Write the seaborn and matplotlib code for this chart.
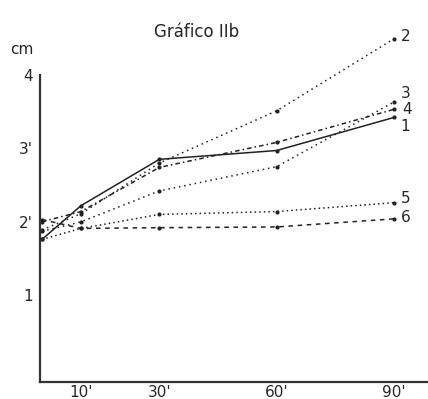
import numpy as np
import pandas as pd
import seaborn as sns
import matplotlib
matplotlib.use("Agg")
import matplotlib.pyplot as plt

# minutes
times = [0, 10, 30, 60, 90]

# length in cm
line1 = [1.76, 2.22, 2.85, 2.97, 3.42]
line2 = [1.89, 2.11, 2.80, 3.51, 4.49]
line3 = [1.87, 2.00, 2.42, 2.75, 3.63]
line4 = [2.00, 2.14, 2.74, 3.08, 3.53]
line5 = [1.76, 1.91, 2.10, 2.14, 2.26]
line6 = [2.03, 1.91, 1.92, 1.93, 2.04]

names = ["1", "2", "3", "4", "5", "6"]
x_labels = ["10'", "30'", "60'", "90'"]
y_labels = ["1", "2'", "3'", "4"]

sns.set_style("white")
plt.rcParams['font.family'] = ['DejaVu Sans']

fig = plt.figure(figsize=(4.28, 3.99), dpi=100)
ax = fig.add_axes([40 / 428, 1 - 382 / 399, 1 - 40 / 428, (382 - 30) / 399])

styles = ['-', (0, (1, 2.5)), (0, (1, 2.5)), (0, (3, 2, 1, 2)), (0, (1, 2)), (0, (3, 3))]
series = [line1, line2, line3, line4, line5, line6]
# where the number sits relative to the last point (pixels)
label_off = [(6, -9), (7, 2), (7, 9), (8, 0), (7, 4), (7, 1)]

for vals, ls, nm, off in zip(series, styles, names, label_off):
    sns.lineplot(x=times, y=vals, ax=ax, color='#222222', linestyle=ls, linewidth=1.1,
                 marker='o', markersize=3, markeredgewidth=0)
    ax.annotate(nm, (times[-1], vals[-1]), xytext=off, textcoords='offset pixels',
                ha='left', va='center', fontsize=11)

ax.set_xlim(-0.5, 98.7)
ax.set_ylim(-0.18, 4.61)

for s in ['top', 'right']:
    ax.spines[s].set_visible(False)
ax.spines['left'].set_bounds(-0.18, 4)
ax.spines['left'].set_color('#333333')
ax.spines['bottom'].set_color('#333333')
ax.spines['left'].set_linewidth(1.6)
ax.spines['bottom'].set_linewidth(1.6)

ax.set_xticks([10, 30, 60, 90])
ax.set_xticklabels(x_labels, fontsize=11)
ax.set_yticks([1, 2, 3, 4])
ax.set_yticklabels(y_labels, fontsize=11)
ax.tick_params(axis='x', direction='in', length=3, pad=2)
ax.tick_params(axis='y', direction='out', length=3, pad=2)

fig.text(197 / 428, 1 - 32 / 399, "Gráfico IIb", ha='center', va='center', fontsize=12)
fig.text(22 / 428, 1 - 50 / 399, "cm", ha='center', va='center', fontsize=11)

fig.savefig("out.png", dpi=100, facecolor='white')
